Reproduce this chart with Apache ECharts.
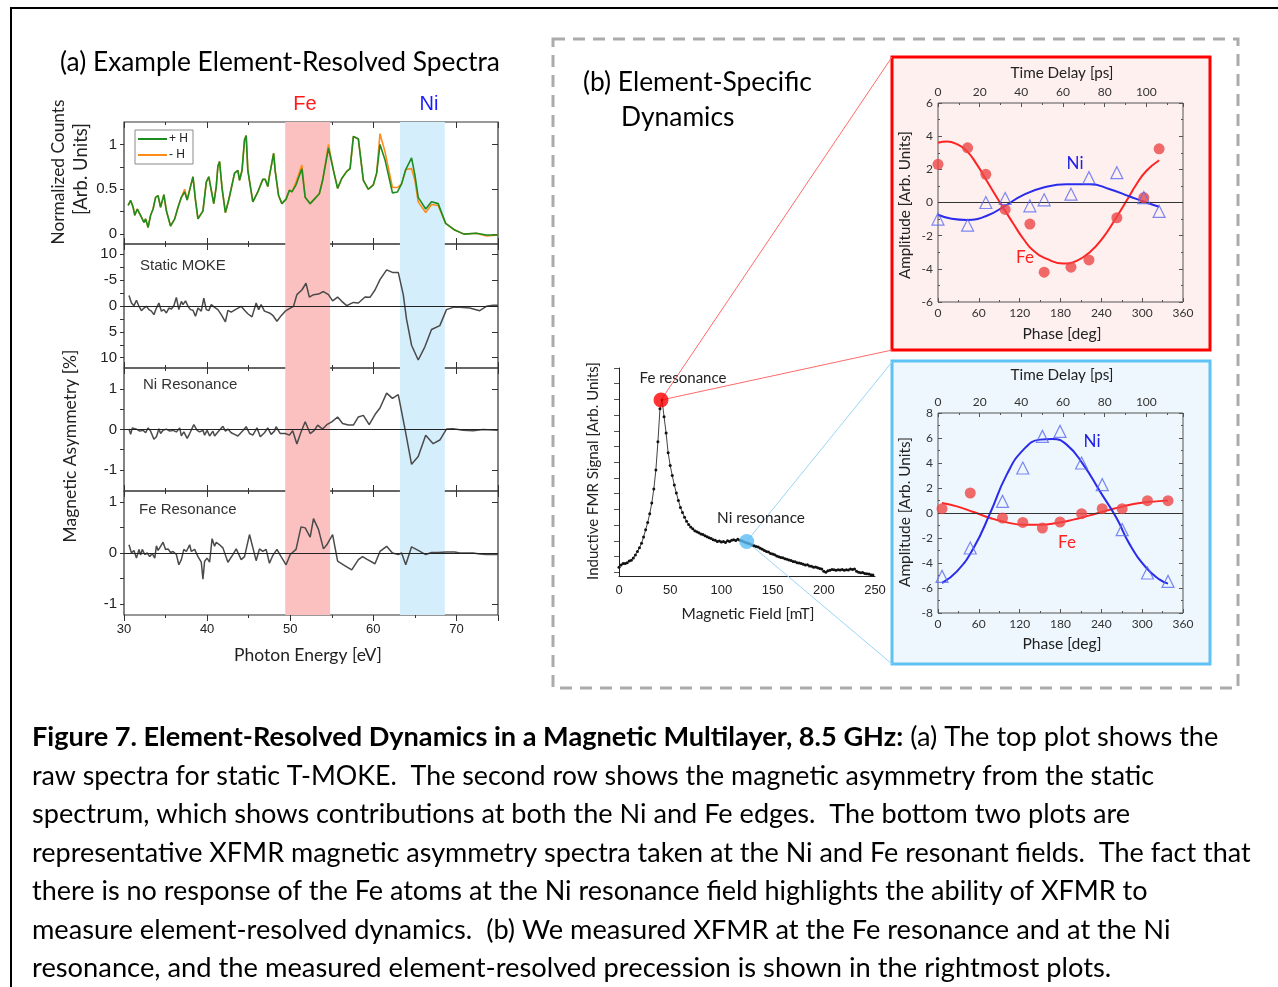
<!DOCTYPE html>
<html><head><meta charset="utf-8"><title>Figure 7</title>
<script src="https://cdn.jsdelivr.net/npm/echarts@6.0.0/dist/echarts.min.js"></script>
<style>html,body{margin:0;padding:0;background:#fff;}#chart{width:1278px;height:987px;}</style>
</head><body><div id="chart"></div>
<script>
// ---------------- DATA ----------------
// (a) top: normalized counts vs photon energy [eV]
const specPlusH = [[30.5,0.32],[30.8,0.376],[31.1,0.30],[31.3,0.21],[31.6,0.28],[31.8,0.28],[32.1,0.19],[32.4,0.13],[32.6,0.17],[32.9,0.075],[33.2,0.21],[33.5,0.28],[33.8,0.41],[34.1,0.43],[34.4,0.30],[34.8,0.44],[35.1,0.26],[35.6,0.09],[36.1,0.17],[36.5,0.30],[36.9,0.41],[37.3,0.47],[37.6,0.38],[38.0,0.53],[38.3,0.64],[38.6,0.38],[38.9,0.17],[39.5,0.26],[39.9,0.58],[40.2,0.64],[40.5,0.49],[40.8,0.34],[41.1,0.53],[41.3,0.76],[41.5,0.81],[41.8,0.51],[42.2,0.24],[42.6,0.38],[43.0,0.55],[43.3,0.68],[43.7,0.71],[43.9,0.60],[44.2,0.71],[44.5,1.05],[44.7,1.10],[44.9,0.71],[45.5,0.36],[46.1,0.47],[46.7,0.61],[47.0,0.61],[47.3,0.53],[47.5,0.65],[48.0,0.90],[48.2,0.70],[48.6,0.43],[49.0,0.34],[49.5,0.39],[49.9,0.49],[50.2,0.47],[50.7,0.55],[51.4,0.73],[51.8,0.41],[52.4,0.34],[52.9,0.39],[53.5,0.45],[53.9,0.60],[54.6,0.96],[55.2,0.71],[55.7,0.51],[56.2,0.62],[56.8,0.70],[57.2,0.73],[57.6,1.09],[58.2,1.06],[58.8,0.60],[59.4,0.50],[60.0,0.55],[60.4,0.68],[60.8,1.00],[61.4,0.83],[62.3,0.46],[62.9,0.47],[63.4,0.56],[63.9,0.72],[64.6,0.85],[65.0,0.66],[65.4,0.41],[66.3,0.28],[67.0,0.36],[67.8,0.34],[68.0,0.32],[68.7,0.12],[69.8,0.045],[70.9,0.0],[72.4,0.01],[73.6,-0.01],[75.0,-0.01]];
const specMinusH = [[30.5,0.32],[30.8,0.376],[31.1,0.30],[31.3,0.21],[31.6,0.28],[31.8,0.28],[32.1,0.19],[32.4,0.13],[32.6,0.17],[32.9,0.075],[33.2,0.21],[33.5,0.28],[33.8,0.41],[34.1,0.43],[34.4,0.30],[34.8,0.44],[35.1,0.26],[35.6,0.09],[36.1,0.17],[36.5,0.30],[36.9,0.41],[37.3,0.50],[37.6,0.38],[38.0,0.53],[38.3,0.64],[38.6,0.38],[38.9,0.17],[39.5,0.26],[39.9,0.58],[40.2,0.64],[40.5,0.49],[40.8,0.34],[41.1,0.53],[41.3,0.76],[41.5,0.81],[41.8,0.51],[42.2,0.24],[42.6,0.38],[43.0,0.55],[43.3,0.68],[43.7,0.71],[43.9,0.60],[44.2,0.71],[44.5,1.05],[44.7,1.10],[44.9,0.71],[45.5,0.36],[46.1,0.47],[46.7,0.61],[47.0,0.61],[47.3,0.53],[47.5,0.65],[48.0,0.90],[48.2,0.70],[48.6,0.43],[49.0,0.34],[49.5,0.39],[49.9,0.49],[50.2,0.47],[50.7,0.58],[51.4,0.77],[51.8,0.41],[52.4,0.34],[52.9,0.39],[53.5,0.45],[53.9,0.60],[54.6,1.00],[55.2,0.71],[55.7,0.51],[56.2,0.62],[56.8,0.70],[57.2,0.73],[57.6,1.09],[58.2,1.06],[58.8,0.60],[59.4,0.50],[60.0,0.55],[60.4,0.68],[60.8,1.12],[61.4,0.92],[62.3,0.52],[62.9,0.52],[63.4,0.56],[63.9,0.72],[64.6,0.73],[65.0,0.60],[65.4,0.36],[66.3,0.24],[67.0,0.33],[67.8,0.32],[68.0,0.31],[68.7,0.12],[69.8,0.045],[70.9,0.0],[72.4,0.01],[73.6,-0.02],[75.0,-0.01]];
// (a) magnetic asymmetry [%]
const staticMoke = [[30.6,-2.05],[30.9,-0.6],[31.2,-0.06],[31.5,-1.1],[31.8,0.06],[32.1,0.9],[32.4,0.4],[32.7,0.06],[33.0,0.7],[33.3,1.0],[33.6,1.67],[33.9,0.4],[34.2,-0.58],[34.5,1.0],[34.8,0.7],[35.1,1.35],[35.4,0.4],[35.7,0.58],[36.0,-0.06],[36.3,-1.67],[36.6,0.7],[36.9,-0.9],[37.1,-0.26],[37.4,-1.0],[37.7,0.06],[38.0,0.7],[38.3,0.83],[38.6,2.0],[38.9,0.4],[39.3,1.0],[39.6,-1.5],[39.9,0.7],[40.2,0.9],[40.5,-0.26],[40.9,0.26],[41.3,0.7],[41.7,1.67],[42.2,3.08],[42.5,0.83],[42.9,1.2],[43.4,0.7],[44.1,0.06],[44.5,0.83],[44.9,1.5],[45.4,2.1],[45.9,-0.58],[46.2,0.7],[46.5,-0.26],[46.9,1.0],[47.1,0.83],[47.5,1.35],[47.9,1.8],[48.4,2.95],[48.8,2.1],[49.4,1.0],[50.0,0.4],[50.4,0.06],[50.8,-2.2],[51.4,-3.1],[51.9,-4.4],[52.3,-1.73],[52.8,-2.2],[53.4,-2.3],[54.0,-2.8],[54.6,-2.2],[55.1,-1.0],[55.7,-1.73],[56.2,-0.9],[56.8,-0.06],[57.0,0.26],[57.6,-0.7],[58.2,-0.58],[59.0,-1.73],[59.6,-1.67],[60.2,-3.1],[60.8,-5.1],[61.6,-7.0],[62.3,-6.5],[63.0,-6.5],[63.6,-2.2],[64.0,2.6],[64.6,7.6],[65.4,10.45],[66.2,7.9],[67.0,4.55],[68.0,3.8],[68.8,0.7],[69.6,0.26],[70.4,0.26],[71.6,0.4],[72.8,0.9],[73.6,0.06],[74.4,-0.13],[75.0,-0.13]];
const niResonance = [[30.6,0.01],[30.8,-0.12],[31.0,0.04],[31.5,0.01],[31.9,-0.04],[32.3,-0.02],[32.6,-0.08],[32.9,0.04],[33.2,-0.04],[33.6,-0.24],[33.9,-0.18],[34.2,0.02],[34.4,-0.1],[34.7,-0.02],[35.1,0.01],[35.5,-0.04],[35.9,-0.02],[36.3,-0.06],[36.7,0.04],[36.9,-0.16],[37.2,-0.06],[37.6,-0.22],[37.9,-0.1],[38.4,0.12],[38.8,-0.02],[39.1,-0.06],[39.5,-0.02],[39.7,-0.14],[40.0,-0.02],[40.3,-0.16],[40.7,-0.04],[40.9,-0.16],[41.3,-0.06],[41.9,0.08],[42.2,-0.04],[42.5,0.01],[42.9,-0.08],[43.3,-0.12],[43.7,-0.16],[44.3,-0.03],[44.7,0.07],[45.1,-0.1],[45.5,-0.14],[46.0,0.04],[46.4,-0.18],[46.9,-0.08],[47.3,0.04],[47.7,-0.12],[48.1,-0.04],[48.3,0.07],[48.8,-0.1],[49.4,-0.1],[49.9,-0.14],[50.3,-0.03],[50.8,-0.36],[51.3,-0.06],[51.8,0.19],[52.4,-0.1],[52.9,-0.02],[53.3,0.11],[53.9,0.01],[54.4,0.12],[55.0,0.19],[55.7,0.31],[56.3,0.15],[57.0,0.11],[57.6,0.11],[58.2,0.31],[58.8,0.35],[59.5,0.12],[60.2,0.37],[60.8,0.53],[61.6,0.9],[62.3,0.77],[63.0,0.86],[63.8,0.02],[64.6,-0.86],[65.4,-0.67],[66.3,-0.14],[67.2,-0.35],[68.0,-0.26],[68.8,0.01],[69.6,0.02],[70.8,-0.02],[72.0,-0.03],[73.2,0.0],[75.0,-0.02]];
const feResonance = [[30.6,0.16],[30.9,0],[31.2,0.05],[31.5,-0.1],[31.8,0.07],[32.0,-0.04],[32.2,0.07],[32.5,-0.03],[32.8,0],[33.1,-0.07],[33.4,-0.01],[33.7,-0.1],[33.9,0.14],[34.1,0.05],[34.4,0.13],[34.7,0.21],[35.0,0.07],[35.3,0.08],[35.6,0.01],[35.9,0.03],[36.3,-0.03],[36.6,-0.23],[36.9,-0.13],[37.2,0.07],[37.5,0.03],[37.9,0.16],[38.1,0.03],[38.5,0.07],[38.9,-0.07],[39.3,-0.18],[39.5,-0.51],[39.7,-0.16],[40.0,-0.1],[40.3,-0.18],[40.6,0.28],[40.9,0.13],[41.1,0.21],[41.5,0.16],[41.9,0.1],[42.5,-0.18],[43.1,-0.03],[43.5,0.08],[44.1,-0.13],[44.5,-0.07],[45.1,0.36],[45.9,-0.15],[46.3,0.08],[46.7,0.03],[47.1,0.07],[47.5,-0.2],[47.9,-0.05],[48.4,0.07],[48.9,-0.07],[49.5,-0.23],[50.0,-0.03],[50.7,0.07],[51.3,0.51],[51.8,0.49],[52.4,0.31],[52.8,0.67],[53.4,0.46],[54.0,0.08],[54.4,0.16],[55.1,0.36],[55.7,-0.16],[56.4,-0.23],[57.4,-0.33],[58.2,-0.13],[58.7,-0.07],[59.2,-0.12],[60.2,-0.21],[60.8,0.03],[61.6,0.13],[62.3,0],[63.0,-0.03],[63.4,0],[63.9,-0.23],[64.6,0.12],[65.4,0.05],[66.3,-0.03],[67.0,0.01],[67.8,0.01],[68.8,0.02],[69.8,0.02],[70.4,0],[72.0,0],[72.8,-0.02],[73.6,-0.03],[75.0,-0.03]];
const feBand = [49.4, 54.8];
const niBand = [63.2, 68.6];
const specTickValues = [0, 0.5, 1];        const specTickLabels = ['0', '0.5', '1'];
const mokeTickValues = [-10, -5, 0, 5, 10]; const mokeTickLabels = ['10', '-5', '0', '5', '10'];
const niResTickValues = [-1, 0, 1];        const niResTickLabels = ['-1', '0', '1'];
const feResTickValues = [-1, 0, 1];        const feResTickLabels = ['-1', '0', '1'];
const specTickMarks  = [0, 0.25, 0.5, 0.75, 1];
const mokeTickMarks  = [-10, -7.5, -5, -2.5, 0, 2.5, 5, 7.5, 10];
const niResTickMarks = [-1, -0.5, 0, 0.5, 1];
const feResTickMarks = [-1, -0.5, 0, 0.5, 1];

// (b) inductive FMR signal vs magnetic field [mT]
const fmrSignal = [[0,-0.34],[2,-0.27],[4,-0.22],[6,-0.22],[8,-0.20],[10,-0.14],[12,-0.12],[14,-0.05],[16,0.05],[18,0.16],[20,0.28],[22,0.42],[24,0.62],[26,0.85],[28,1.08],[30,1.36],[32,1.70],[34,2.15],[36,2.75],[38,3.65],[40,4.70],[42,4.98],[44,4.45],[46,3.93],[48,3.30],[50,2.90],[52,2.58],[54,2.28],[56,2.02],[58,1.78],[60,1.56],[62,1.40],[64,1.25],[66,1.12],[68,1.02],[70,0.94],[72,0.88],[74,0.82],[76,0.79],[78,0.76],[80,0.72],[82,0.70],[84,0.66],[86,0.63],[88,0.60],[90,0.57],[92,0.53],[94,0.52],[96,0.48],[98,0.49],[100,0.46],[102,0.48],[104,0.45],[106,0.50],[108,0.48],[110,0.52],[112,0.53],[114,0.51],[116,0.55],[118,0.52],[120,0.50],[122,0.47],[124,0.44],[126,0.42],[128,0.40],[130,0.37],[132,0.34],[134,0.32],[136,0.30],[138,0.26],[140,0.23],[142,0.19],[144,0.16],[146,0.14],[148,0.10],[150,0.08],[152,0.06],[154,0.02],[156,-0.01],[158,-0.03],[160,-0.04],[162,-0.07],[164,-0.09],[166,-0.11],[168,-0.13],[170,-0.16],[172,-0.17],[174,-0.20],[176,-0.21],[178,-0.22],[180,-0.25],[182,-0.27],[184,-0.26],[186,-0.30],[188,-0.31],[190,-0.34],[192,-0.33],[194,-0.36],[196,-0.38],[198,-0.40],[200,-0.47],[202,-0.50],[204,-0.45],[206,-0.44],[208,-0.41],[210,-0.42],[212,-0.44],[214,-0.42],[216,-0.43],[218,-0.41],[220,-0.44],[222,-0.42],[224,-0.43],[226,-0.40],[228,-0.41],[230,-0.40],[232,-0.47],[234,-0.50],[236,-0.52],[238,-0.51],[240,-0.54],[242,-0.55],[244,-0.56],[246,-0.58],[248,-0.59]];
const feMarker = [41, 4.98];
const niMarker = [124.7, 0.48];
const fmrTickValues = [-0.5,0,0.5,1,1.5,2,2.5,3,3.5,4,4.5,5,5.5,6];

// (b) top-right: Fe resonance
const phaseTop = [0, 43.5, 70.3, 98.7, 135, 156, 195.4, 221.8, 262.8, 302.4, 324.9];
const feTop    = [2.3, 3.3, 1.7, -0.42, -1.3, -4.2, -3.9, -3.46, -0.92, 0.3, 3.24];
const niTop    = [-1.0, -1.37, 0.0, 0.24, -0.2, 0.16, 0.5, 1.5, 1.8, 0.3, -0.54];
const feFitTop = [[0,3.6],[13,3.68],[27.8,3.52],[42.5,3.1],[57,2.3],[71.8,1.3],[86.5,0.3],[98.7,-0.5],[111,-1.3],[125.6,-2.2],[140,-2.9],[160,-3.4],[184,-3.68],[203.7,-3.52],[223,-3.0],[242.8,-2.1],[262,-0.9],[277,0.1],[291.6,1.1],[306,1.9],[325,2.55]];
const niFitTop = [[0,-0.74],[20,-0.98],[42.5,-1.05],[71.8,-0.8],[98.7,-0.2],[125.6,0.46],[155,0.9],[189,1.1],[223,1.1],[252.6,0.8],[281.9,0.36],[306,0],[324.9,-0.26]];
// (b) bottom-right: Ni resonance
const phaseBot = [5.9, 47.4, 94.8, 124.6, 153.4, 179.3, 211, 241.3, 270.6, 307.8, 338];
const niBot    = [-5.07, -2.8, 0.93, 3.6, 6.13, 6.53, 4.0, 2.27, -1.33, -4.8, -5.47];
const feBot    = [0.35, 1.6, -0.4, -0.75, -1.2, -0.72, -0.05, 0.35, 0.35, 0.99, 0.99];
const niFitBot = [[5.9,-5.6],[27.8,-4.67],[52.3,-2.8],[76.7,0],[101,3.07],[125.6,5.07],[150,5.87],[168,5.92],[189,5.47],[213.5,3.87],[238,1.73],[262.3,-0.4],[281.9,-2.53],[306.3,-4.4],[325.8,-5.33],[338,-5.65]];
const feFitBot = [[5.9,0.8],[27.8,0.53],[52.3,0.08],[76.7,-0.4],[101,-0.75],[125.6,-0.93],[150,-0.93],[174.4,-0.8],[198.8,-0.53],[223,-0.19],[247.7,0.19],[272,0.53],[296.5,0.8],[321,0.93],[338,0.99]];
const periodPs = 117.6; // 360 deg of phase at 8.5 GHz

const captionBold = 'Figure 7. Element-Resolved Dynamics in a Magnetic Multilayer, 8.5 GHz:';
const captionLines = [
  ' (a) The top plot shows the',
  'raw spectra for static T-MOKE.  The second row shows the magnetic asymmetry from the static',
  'spectrum, which shows contributions at both the Ni and Fe edges.  The bottom two plots are',
  'representative XFMR magnetic asymmetry spectra taken at the Ni and Fe resonant fields.  The fact that',
  'there is no response of the Fe atoms at the Ni resonance field highlights the ability of XFMR to',
  'measure element-resolved dynamics.  (b) We measured XFMR at the Fe resonance and at the Ni',
  'resonance, and the measured element-resolved precession is shown in the rightmost plots.'
];

// ---------------- STYLE / LAYOUT ----------------
const ARIAL = 'Liberation Sans';
const CAL = 'Lato';
const FE_BAND = '#FBC0C0', NI_BAND = '#D5EEFC';
const mctx = document.createElement('canvas').getContext('2d');
function fitSize(text, fam, wt, w) { mctx.font = wt + ' 100px "' + fam + '"'; return 100 * w / mctx.measureText(text).width; }

const chart = echarts.init(document.getElementById('chart'), null, {renderer: 'canvas', width: 1278, height: 987});

function build(connectors) {
  const G = [];
  let gid = 0;
  function text(t, x, y, o) {
    o = o || {};
    const fam = o.family || CAL, wt = o.weight || 'normal';
    const size = o.width ? fitSize(t, fam, wt, o.width) : o.size;
    const al = o.align || 'center';
    G.push({type: 'text', id: 't' + (gid++), x: x, y: y, rotation: o.rot || 0, z: 20, silent: true,
      style: {text: t, fill: o.color || '#000', fontSize: size, fontFamily: fam, fontWeight: wt,
        align: al, textAlign: al, verticalAlign: 'middle', textVerticalAlign: 'middle'}});
    return size;
  }
  // frames
  G.push({type: 'line', id: 'frameTop', z: 0, silent: true, shape: {x1: 10, y1: 8, x2: 1278, y2: 8}, style: {stroke: '#000', lineWidth: 2}});
  G.push({type: 'line', id: 'frameLeft', z: 0, silent: true, shape: {x1: 11, y1: 8, x2: 11, y2: 987}, style: {stroke: '#000', lineWidth: 2}});
  G.push({type: 'rect', id: 'dashBox', z: 0, silent: true, shape: {x: 553, y: 39, width: 685, height: 649}, style: {fill: 'none', stroke: '#ABABAB', lineWidth: 3, lineDash: [12, 8]}});
  G.push({type: 'rect', id: 'redBox', z: -5, silent: true, shape: {x: 892, y: 57, width: 318, height: 293}, style: {fill: '#FFF0F0', stroke: '#FF0000', lineWidth: 3}});
  G.push({type: 'rect', id: 'blueBox', z: -5, silent: true, shape: {x: 892, y: 361, width: 318, height: 303}, style: {fill: '#EEF7FD', stroke: '#5EC2F4', lineWidth: 3}});
  // legend
  G.push({type: 'rect', id: 'legBox', z: 15, silent: true, shape: {x: 135, y: 130, width: 58, height: 34}, style: {fill: '#fff', stroke: '#8a8a8a', lineWidth: 1}});
  G.push({type: 'line', id: 'legG', z: 16, silent: true, shape: {x1: 138, y1: 139, x2: 167, y2: 139}, style: {stroke: '#1E8C1E', lineWidth: 2}});
  G.push({type: 'line', id: 'legO', z: 16, silent: true, shape: {x1: 138, y1: 155, x2: 167, y2: 155}, style: {stroke: '#FF8C1A', lineWidth: 2}});
  text('+ H', 169, 139, {family: ARIAL, size: 12, align: 'left', color: '#222'});
  text('- H', 169, 155, {family: ARIAL, size: 12, align: 'left', color: '#222'});
  // titles
  text('(a) Example Element-Resolved Spectra', 60, 63, {width: 440, align: 'left'});
  const bs = fitSize('(b) Element-Specific', CAL, 'normal', 229);
  text('(b) Element-Specific', 583, 82, {size: bs, align: 'left'});
  text('Dynamics', 621, 117, {size: bs, align: 'left'});
  // left panel labels
  text('Fe', 305, 104, {family: ARIAL, size: 20, color: '#FF1A1A'});
  text('Ni', 429, 104, {family: ARIAL, size: 20, color: '#1A1AFF'});
  text('Static MOKE', 140, 266, {family: ARIAL, size: 15, align: 'left', color: '#333'});
  text('Ni Resonance', 143, 385, {family: ARIAL, size: 15, align: 'left', color: '#333'});
  text('Fe Resonance', 139, 510, {family: ARIAL, size: 15, align: 'left', color: '#333'});
  text('Normalized Counts', 58, 172, {width: 145, rot: Math.PI / 2, color: '#222'});
  text('[Arb. Units]', 81, 169, {width: 92, rot: Math.PI / 2, color: '#222'});
  text('Magnetic Asymmetry [%]', 70, 446, {width: 193, rot: Math.PI / 2, color: '#222'});
  text('Photon Energy [eV]', 308, 655, {width: 148, color: '#222'});
  // middle plot labels
  text('Fe resonance', 683, 378, {width: 87, color: '#222'});
  text('Ni resonance', 761, 518, {width: 88, color: '#222'});
  text('Inductive FMR Signal [Arb. Units]', 593, 471, {width: 218, rot: Math.PI / 2, color: '#222'});
  text('Magnetic Field [mT]', 748, 614, {width: 133, color: '#222'});
  // right plots labels
  text('Time Delay [ps]', 1062, 73, {width: 103, color: '#222'});
  text('Phase [deg]', 1062, 334, {width: 79, color: '#222'});
  text('Amplitude [Arb. Units]', 905, 205, {width: 148, rot: Math.PI / 2, color: '#222'});
  text('Time Delay [ps]', 1062, 375, {width: 103, color: '#222'});
  text('Phase [deg]', 1062, 644, {width: 79, color: '#222'});
  text('Amplitude [Arb. Units]', 905, 512, {width: 150, rot: Math.PI / 2, color: '#222'});
  text('Ni', 1075, 164, {size: 17, color: '#2020E8'});
  text('Fe', 1025, 258, {size: 17, color: '#FF2020'});
  text('Ni', 1092, 442, {size: 17, color: '#2020E8'});
  text('Fe', 1067, 543, {size: 17, color: '#FF2020'});
  // caption
  mctx.font = 'bold 100px "' + CAL + '"'; const wb = mctx.measureText(captionBold).width;
  mctx.font = '100px "' + CAL + '"'; const wn = mctx.measureText(captionLines[0]).width;
  const s1 = 100 * 1187 / (wb + wn);
  G.push({type: 'text', id: 'cap0', x: 32, y: 737, z: 20, silent: true,
    style: {text: '{b|' + captionBold + '}' + captionLines[0], fill: '#000', fontSize: s1, fontFamily: CAL,
      align: 'left', textAlign: 'left', verticalAlign: 'middle', textVerticalAlign: 'middle',
      rich: {b: {fontWeight: 'bold', fontSize: s1, fontFamily: CAL, fill: '#000', color: '#000'}}}});
  const capEnds = [1155, 1131, 1251, 1148, 1171, 1112];
  const capY = [776, 814, 853, 891, 930, 968];
  for (let i = 1; i < captionLines.length; i++) {
    text(captionLines[i], 32, capY[i - 1], {width: capEnds[i - 1] - 32, align: 'left'});
  }
  (connectors || []).forEach((c, k) => G.push({type: 'line', id: 'conn' + k, z: 1, silent: true,
    shape: {x1: c[0][0], y1: c[0][1], x2: c[1][0], y2: c[1][1]}, style: {stroke: c[2], lineWidth: 1}}));

  // ---------- axes ----------
  const grids = [], xAxis = [], yAxis = [], series = [];
  const axCol = '#333';
  const leftPanels = [
    {top: 122, height: 122, min: -0.11, max: 1.25, inv: false, tv: specTickValues, tl: specTickLabels, tm: specTickMarks},
    {top: 244, height: 124, min: -12, max: 12, inv: true, tv: mokeTickValues, tl: mokeTickLabels, tm: mokeTickMarks},
    {top: 368, height: 123, min: -1.52, max: 1.52, inv: false, tv: niResTickValues, tl: niResTickLabels, tm: niResTickMarks},
    {top: 491, height: 124, min: -1.21, max: 1.21, inv: false, tv: feResTickValues, tl: feResTickLabels, tm: feResTickMarks}
  ];
  leftPanels.forEach((p, i) => {
    grids.push({left: 124, top: p.top, width: 374, height: p.height, show: true, borderColor: axCol, borderWidth: 1.2, backgroundColor: 'transparent'});
    ['bottom', 'top'].forEach(pos => {
      const outside = pos === 'bottom' && i === 3;
      xAxis.push({gridIndex: i, type: 'value', position: pos, min: 30, max: 75, interval: 10,
        axisLine: {show: false, onZero: false}, splitLine: {show: false},
        axisTick: {inside: !outside, length: 6, lineStyle: {color: axCol}},
        minorTick: {show: true, splitNumber: 2, length: 3, lineStyle: {color: axCol}},
        axisLabel: {show: outside, showMaxLabel: false, fontFamily: ARIAL, fontSize: 13, color: '#222', margin: 8}});
    });
    ['left', 'right'].forEach(pos => yAxis.push({gridIndex: i, type: 'value', position: pos, min: p.min, max: p.max, inverse: p.inv,
      axisLine: {show: false, onZero: false}, splitLine: {show: false},
      axisTick: pos === 'left'
        ? {inside: false, length: 4, customValues: p.tm, lineStyle: {color: axCol}}
        : {inside: true, length: 6, customValues: p.tv, lineStyle: {color: axCol}},
      axisLabel: {show: pos === 'left', customValues: p.tv, fontFamily: ARIAL, fontSize: 15, color: '#222', margin: 7,
        formatter: v => p.tl[p.tv.indexOf(v)]}}));
    // bands
    series.push({type: 'line', xAxisIndex: 2 * i, yAxisIndex: 2 * i, data: [], z: 1, silent: true,
      markArea: {silent: true, data: [
        [{xAxis: feBand[0], itemStyle: {color: FE_BAND}}, {xAxis: feBand[1]}],
        [{xAxis: niBand[0], itemStyle: {color: NI_BAND}}, {xAxis: niBand[1]}]]}});
  });
  const lineS = (data, xi, yi, color, w, z, zero) => {
    const s = {type: 'line', xAxisIndex: xi, yAxisIndex: yi, data: data, showSymbol: false, z: z, silent: true,
      lineStyle: {color: color, width: w}, itemStyle: {color: color}};
    if (zero) s.markLine = {silent: true, symbol: ['none', 'none'], label: {show: false},
      lineStyle: {color: '#222', width: 1.2, type: 'solid'}, data: [{yAxis: 0}]};
    return s;
  };
  series.push(lineS(specMinusH, 0, 0, '#FF8C1A', 1.6, 3));
  series.push(lineS(specPlusH, 0, 0, '#1E8C1E', 1.6, 4));
  series.push(lineS(staticMoke, 2, 2, '#4A4A4A', 1.5, 3, true));
  series.push(lineS(niResonance, 4, 4, '#4A4A4A', 1.5, 3, true));
  series.push(lineS(feResonance, 6, 6, '#4A4A4A', 1.5, 3, true));

  // FMR plot (grid 4, axes 8)
  grids.push({left: 619, top: 368, width: 256, height: 208, show: false});
  xAxis.push({gridIndex: 4, type: 'value', min: 0, max: 250, interval: 50,
    axisLine: {show: true, onZero: false, lineStyle: {color: '#222'}}, axisTick: {show: false}, splitLine: {show: false},
    axisLabel: {fontFamily: ARIAL, fontSize: 13, color: '#222', margin: 8}});
  yAxis.push({gridIndex: 4, type: 'value', min: -0.62, max: 6.0,
    axisLine: {show: true, onZero: false, lineStyle: {color: '#222'}}, splitLine: {show: false},
    axisTick: {show: true, inside: false, length: 5, customValues: fmrTickValues, lineStyle: {color: '#555'}},
    axisLabel: {show: false}});
  series.push({type: 'line', xAxisIndex: 8, yAxisIndex: 8, data: fmrSignal, silent: true, z: 3,
    symbol: 'circle', symbolSize: 3, showSymbol: true, lineStyle: {color: '#111', width: 0.8}, itemStyle: {color: '#111'}});
  series.push({type: 'scatter', xAxisIndex: 8, yAxisIndex: 8, data: [feMarker], symbolSize: 15, z: 10, silent: true, itemStyle: {color: '#FF0000'}});
  series.push({type: 'scatter', xAxisIndex: 8, yAxisIndex: 8, data: [niMarker], symbolSize: 15, z: 10, silent: true, itemStyle: {color: '#5BBDF5'}});

  // right plots
  const rp = [
    {top: 103, height: 199, min: -6, max: 6, phase: phaseTop, fe: feTop, ni: niTop, feFit: feFitTop, niFit: niFitTop},
    {top: 413, height: 200, min: -8, max: 8, phase: phaseBot, fe: feBot, ni: niBot, feFit: feFitBot, niFit: niFitBot}
  ];
  rp.forEach((p, k) => {
    const gi = 5 + k;
    grids.push({left: 938, top: p.top, width: 245, height: p.height, show: true, borderColor: '#555', borderWidth: 1, backgroundColor: 'transparent'});
    const lab = {fontFamily: CAL, fontSize: 12, color: '#333', margin: 5};
    const tick = {inside: true, length: 4, lineStyle: {color: '#555'}};
    const minor = {show: true, splitNumber: 2, length: 2, lineStyle: {color: '#555'}};
    const xb = xAxis.length;
    xAxis.push({gridIndex: gi, type: 'value', position: 'bottom', min: 0, max: 360, interval: 60,
      axisLine: {show: false, onZero: false}, splitLine: {show: false}, axisTick: tick, minorTick: minor, axisLabel: lab});
    xAxis.push({gridIndex: gi, type: 'value', position: 'top', min: 0, max: periodPs, interval: 20,
      axisLine: {show: false, onZero: false}, splitLine: {show: false}, axisTick: tick, minorTick: minor,
      axisLabel: Object.assign({showMaxLabel: false}, lab)});
    const yb = yAxis.length;
    yAxis.push({gridIndex: gi, type: 'value', position: 'left', min: p.min, max: p.max, interval: 2,
      axisLine: {show: false, onZero: false}, splitLine: {show: false}, axisTick: tick, minorTick: minor, axisLabel: lab});
    yAxis.push({gridIndex: gi, type: 'value', position: 'right', min: p.min, max: p.max, interval: 2,
      axisLine: {show: false, onZero: false}, splitLine: {show: false}, axisTick: tick, minorTick: minor, axisLabel: {show: false}});
    const fit = (d, c) => ({type: 'line', xAxisIndex: xb, yAxisIndex: yb, data: d, smooth: true, showSymbol: false, silent: true, z: 4,
      lineStyle: {color: c, width: 2}, itemStyle: {color: c}});
    const fs = fit(p.feFit, '#FF2424');
    fs.markLine = {silent: true, symbol: ['none', 'none'], label: {show: false}, lineStyle: {color: '#333', width: 1, type: 'solid'}, data: [{yAxis: 0}]};
    series.push(fs);
    series.push(fit(p.niFit, '#2B2BEB'));
    series.push({type: 'scatter', xAxisIndex: xb, yAxisIndex: yb, z: 5, silent: true, symbol: 'circle', symbolSize: 11,
      data: p.phase.map((x, j) => [x, p.fe[j]]), itemStyle: {color: '#EE4646'}});
    series.push({type: 'scatter', xAxisIndex: xb, yAxisIndex: yb, z: 6, silent: true, symbol: 'triangle', symbolSize: 12,
      data: p.phase.map((x, j) => [x, p.ni[j]]), itemStyle: {color: 'rgba(255,255,255,0)', borderColor: '#5C6CF0', borderWidth: 1.2}});
  });

  return {animation: false, backgroundColor: '#fff', grid: grids, xAxis: xAxis, yAxis: yAxis, series: series, graphic: {elements: G}};
}

chart.setOption(build([]));
const feP = chart.convertToPixel({xAxisIndex: 8, yAxisIndex: 8}, feMarker);
const niP = chart.convertToPixel({xAxisIndex: 8, yAxisIndex: 8}, niMarker);
chart.setOption(build([
  [feP, [892, 57], '#FF6A6A'], [feP, [892, 350], '#FF6A6A'],
  [niP, [892, 362], '#9AD6F7'], [niP, [892, 664], '#9AD6F7']
]), true);
</script></body></html>
